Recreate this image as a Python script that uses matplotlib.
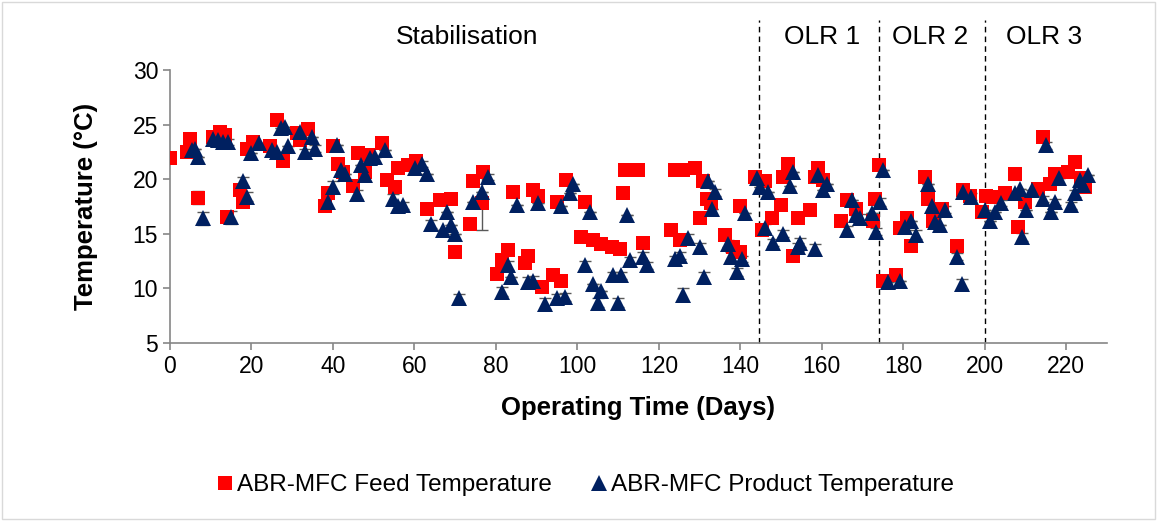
import matplotlib
matplotlib.use("Agg")
import matplotlib.pyplot as plt
from matplotlib.patches import Rectangle

plt.rcParams['font.family'] = ['Liberation Sans', 'DejaVu Sans']

# ABR-MFC feed temperature (day, °C, error)
feed_day = [0, 4.1, 4.9, 6.9, 10.6, 12.3, 13.5, 13.9, 17.2, 18.0, 18.8, 20.4, 24.5, 26.2,
            27.8, 31.1, 31.9, 33.9, 38.0, 38.9, 40.1, 41.3, 42.5, 45.0, 46.2, 47.9, 48.7,
            52.0, 53.2, 55.2, 56.0, 58.5, 60.5, 63.0, 66.3, 69.1, 69.9, 73.6, 74.5, 76.5,
            76.9, 80.2, 81.4, 83.0, 84.2, 87.1, 87.9, 89.2, 90.4, 91.2, 94.1, 94.9, 96.1,
            97.3, 101.0, 101.8, 103.9, 105.9, 108.4, 110.4, 111.2, 111.7, 114.9, 116.1,
            123.1, 123.9, 125.2, 126.0, 128.8, 130.1, 130.9, 131.7, 132.9, 136.2, 138.2,
            139.9, 139.9, 143.6, 145.2, 146.0, 147.7, 150.1, 150.5, 151.8, 153.0, 154.2,
            157.1, 158.3, 159.1, 160.3, 164.8, 166.1, 168.5, 172.6, 173.0, 174.1, 175.0,
            178.3, 179.1, 180.8, 182.0, 185.3, 186.1, 187.3, 189.4, 193.1, 194.7, 196.3,
            199.2, 200.4, 202.0, 204.9, 207.4, 208.2, 209.8, 213.1, 214.3, 216.0, 217.2,
            220.4, 222.1, 223.7, 224.5]
feed_temp = [21.9, 22.5, 23.7, 18.3, 23.9, 24.3, 24.0, 16.5, 19.0, 17.9, 22.8, 23.4, 23.0, 25.4,
             21.7, 24.2, 23.6, 24.6, 17.5, 18.7, 23.0, 21.4, 20.7, 19.4, 22.4, 20.7, 22.2,
             23.3, 19.9, 19.3, 21.0, 21.3, 21.7, 17.3, 18.1, 18.2, 13.3, 15.9, 19.8, 17.8,
             20.7, 11.3, 12.6, 13.5, 18.8, 12.3, 13.0, 19.0, 18.5, 10.1, 11.2, 17.9, 10.7,
             19.9, 14.7, 17.9, 14.4, 14.1, 13.8, 13.6, 18.7, 20.8, 20.8, 14.2,
             15.3, 20.8, 14.4, 20.8, 21.0, 16.4, 19.8, 18.2, 17.8, 14.9, 13.8,
             13.3, 17.5, 20.2, 15.3, 19.8, 16.4, 17.6, 20.2, 21.4, 13.0, 16.4,
             17.2, 20.2, 21.0, 19.9, 16.2, 18.1, 17.3, 16.2, 18.2, 21.3, 10.7,
             11.2, 15.5, 16.4, 13.9, 20.2, 18.2, 16.2, 17.3, 13.9, 19.0, 18.5,
             17.0, 18.5, 18.4, 18.7, 20.5, 15.6, 17.9, 19.1, 23.9, 19.6, 20.5,
             20.7, 21.6, 20.1, 19.3]
feed_err = [0, 0, 0, 0.6, 0, 0, 0, 0, 0, 0, 0, 0, 0, 0,
            0, 0, 0, 0, 0, 0, 0, 0, 0, 0, 0, 0, 0,
            0, 0, 0, 0, 0, 0, 0, 0, 0, 0, 0, 0, 2.5,
            0, 0, 0, 0, 0, 0, 0.4, 0.4, 0, 0, 0, 0, 0,
            0, 0, 0, 0, 0, 0, 0, 0, 0, 0, 0,
            0, 0, 0, 0, 0, 0, 0, 0, 0, 0, 0,
            0, 0, 0, 0, 0, 0, 0, 0, 0, 0, 0,
            0, 0, 0, 0, 0, 0, 0, 0, 0, 0, 0,
            0, 0, 0, 0, 0, 0, 0, 0, 0, 0, 0,
            0, 0, 0, 0, 0, 0, 0, 0, 0, 0, 0,
            0, 0, 0, 0]

# ABR-MFC product temperature (day, °C, error)
prod_day = [5.3, 6.1, 6.9, 8.0, 10.6, 11.9, 13.1, 14.3, 15.0, 18.0, 19.0, 20.0, 21.9, 25.0,
            26.3, 27.2, 28.2, 29.0, 31.9, 33.1, 34.8, 35.6, 38.9, 40.1, 40.9, 42.1, 43.0,
            46.0, 47.0, 47.9, 49.1, 50.3, 52.9, 54.8, 56.0, 57.3, 60.1, 61.8, 63.0, 64.0,
            67.1, 67.9, 69.1, 69.9, 70.9, 74.5, 76.5, 78.1, 81.4, 83.0, 83.8, 85.1, 87.9,
            89.2, 90.4, 92.0, 94.9, 96.1, 96.9, 98.2, 99.0, 101.8, 103.1, 103.9, 105.1,
            105.9, 108.8, 110.0, 110.8, 112.1, 112.9, 116.1, 117.0, 123.9, 125.2, 126.0,
            127.2, 130.1, 131.2, 132.1, 133.1, 133.9, 137.0, 137.8, 139.1, 140.3, 141.1,
            144.0, 144.8, 146.0, 146.8, 148.0, 150.5, 152.1, 153.0, 154.2, 154.6, 158.3,
            159.1, 160.2, 161.2, 166.1, 167.3, 168.5, 169.3, 172.2, 173.3, 174.2, 175.0,
            176.3, 179.1, 180.4, 182.0, 183.2, 186.1, 187.0, 187.7, 189.0, 190.2, 193.1,
            194.3, 194.6, 196.7, 200.0, 201.2, 202.5, 204.1, 207.4, 208.6, 209.2, 210.2,
            211.5, 214.3, 215.1, 216.2, 217.2, 218.2, 221.1, 222.1, 223.3, 224.1, 225.4]
prod_temp = [22.7, 22.8, 22.0, 16.4, 23.7, 23.6, 23.4, 23.4, 16.5, 19.8, 18.4, 22.4, 23.3, 22.7,
             22.5, 24.7, 24.8, 23.0, 24.3, 22.5, 23.9, 22.8, 17.9, 19.3, 23.1, 20.8, 20.5,
             18.6, 21.3, 20.4, 21.9, 22.0, 22.7, 18.2, 17.5, 17.6, 21.0, 21.4, 20.5, 15.9,
             15.3, 17.0, 15.8, 15.0, 9.1, 17.9, 18.8, 20.2, 9.7, 12.1, 11.0, 17.6, 10.6,
             10.7, 17.8, 8.6, 9.1, 17.5, 9.2, 18.7, 19.6, 12.1, 17.0, 10.4, 8.7,
             9.8, 11.2, 8.7, 11.2, 16.7, 12.6, 12.9, 12.1, 12.7, 13.0, 9.4,
             14.6, 13.8, 11.0, 19.8, 17.3, 18.8, 14.1, 12.9, 11.5, 12.7, 16.9,
             20.1, 19.3, 15.5, 18.8, 14.2, 15.0, 19.4, 20.7, 13.8, 14.2, 13.6,
             20.4, 19.0, 19.6, 15.3, 18.1, 16.7, 16.4, 16.9, 15.2, 17.9, 20.8,
             10.6, 10.7, 15.6, 16.2, 14.9, 19.6, 17.5, 16.1, 15.8, 17.2, 12.9,
             10.4, 18.8, 18.4, 17.2, 16.2, 17.0, 17.8, 18.7, 19.1, 14.7, 17.2,
             19.0, 18.2, 23.1, 17.0, 17.9, 20.1, 17.6, 18.7, 19.9, 19.5, 20.4]
prod_err = [0, 0, 0, 0.6, 0, 0, 0, 0.3, 0.6, 0.4, 0.4, 0, 0, 0,
            0, 0, 0, 0, 0, 0.3, 0, 0.3, 0.5, 0.5, 0, 0.4, 0,
            0.4, 0, 0, 0.3, 0, 0, 0.4, 0.3, 0.3, 0, 0.3, 0, 0.4,
            0, 0, 0, 0, 0.4, 0, 0, 0.3, 0.4, 0.4, 0, 0, 0.4,
            0.4, 0, 0.5, 0.4, 0, 0.4, 0, 0, 0.4, 0, 0, 0.4,
            0, 0.3, 0.4, 0.3, 0, 0.3, 0.4, 0.3, 0.3, 0.3, 0.6,
            0.4, 0.4, 0.5, 0, 0, 0.3, 0.3, 0.4, 0.4, 0.3, 0,
            0, 0, 0.4, 0, 0.3, 0.3, 0, 0, 0.4, 0.4, 0.5,
            0.3, 0, 0, 0.4, 0, 0, 0.4, 0, 0.3, 0.4, 0,
            0, 0, 0.3, 0, 0.4, 0, 0.3, 0.3, 0, 0.3, 0.3,
            0.5, 0, 0.3, 0, 0, 0, 0.3, 0, 0, 0.4, 0,
            0, 0.3, 0.3, 0, 0.3, 0, 0.3, 0.3, 0, 0, 0]

# Phase boundaries and labels
phase_bounds = [144.5, 174, 200]
phase_labels = ["Stabilisation", "OLR 1", "OLR 2", "OLR 3"]
phase_label_x = [73, 160, 186.5, 214.5]

xticks = list(range(0, 221, 20))
yticks = [5, 10, 15, 20, 25, 30]

RED = "#FF0000"
NAVY = "#002060"
GREY = "#868686"

fig = plt.figure(figsize=(11.57, 5.21), dpi=100)
ax = fig.add_axes([0.1469, 0.3417, 0.8099, 0.5240])

# error bars (drawn under the markers)
ax.errorbar(feed_day, feed_temp, yerr=feed_err, fmt='none', ecolor='#595959',
            elinewidth=1, capsize=4, capthick=1, zorder=2)
ax.errorbar(prod_day, prod_temp, yerr=prod_err, fmt='none', ecolor='#595959',
            elinewidth=1, capsize=4, capthick=1, zorder=2)

ax.plot(feed_day, feed_temp, linestyle='none', marker='s', markersize=10.5,
        color=RED, markeredgewidth=0, zorder=3, label="ABR-MFC Feed Temperature")
ax.plot(prod_day, prod_temp, linestyle='none', marker='^', markersize=11,
        color=NAVY, markeredgewidth=0, zorder=4, label="ABR-MFC Product Temperature")

ax.set_xlim(0, 230)
ax.set_ylim(5, 30)
ax.set_xticks(xticks)
ax.set_yticks(yticks)

for side in ['top', 'right']:
    ax.spines[side].set_visible(False)
for side in ['left', 'bottom']:
    ax.spines[side].set_color(GREY)
    ax.spines[side].set_linewidth(1.2)
ax.tick_params(axis='both', colors=GREY, length=5, width=1.2, direction='out',
               labelsize=16.5, labelcolor='black')

ax.set_xlabel("Operating Time (Days)", fontsize=18.5, fontweight='bold')
ax.set_ylabel("Temperature (°C)", fontsize=18.5, fontweight='bold')
ax.xaxis.set_label_coords(0.5, -0.195)
ax.yaxis.set_label_coords(-0.077, 0.5)

# phase separators extend above the plotting area
for xb in phase_bounds:
    ax.plot([xb, xb], [5, 34.6], color='black', linestyle=(0, (4, 3)), linewidth=1,
            clip_on=False, zorder=1)
for lx, lab in zip(phase_label_x, phase_labels):
    ax.text(lx, 33.0, lab, ha='center', va='center', fontsize=19, clip_on=False)

fig.legend(loc='center', bbox_to_anchor=(0.506, 0.069), ncol=2, frameon=False,
           fontsize=17.5, handlelength=0.7, handletextpad=0.15, columnspacing=1.6,
           markerscale=1.0)

# outer chart border
fig.patches.append(Rectangle((0.002, 0.004), 0.996, 0.992, transform=fig.transFigure,
                             fill=False, edgecolor='#D9D9D9', linewidth=1))

fig.savefig("out.png", dpi=100)
